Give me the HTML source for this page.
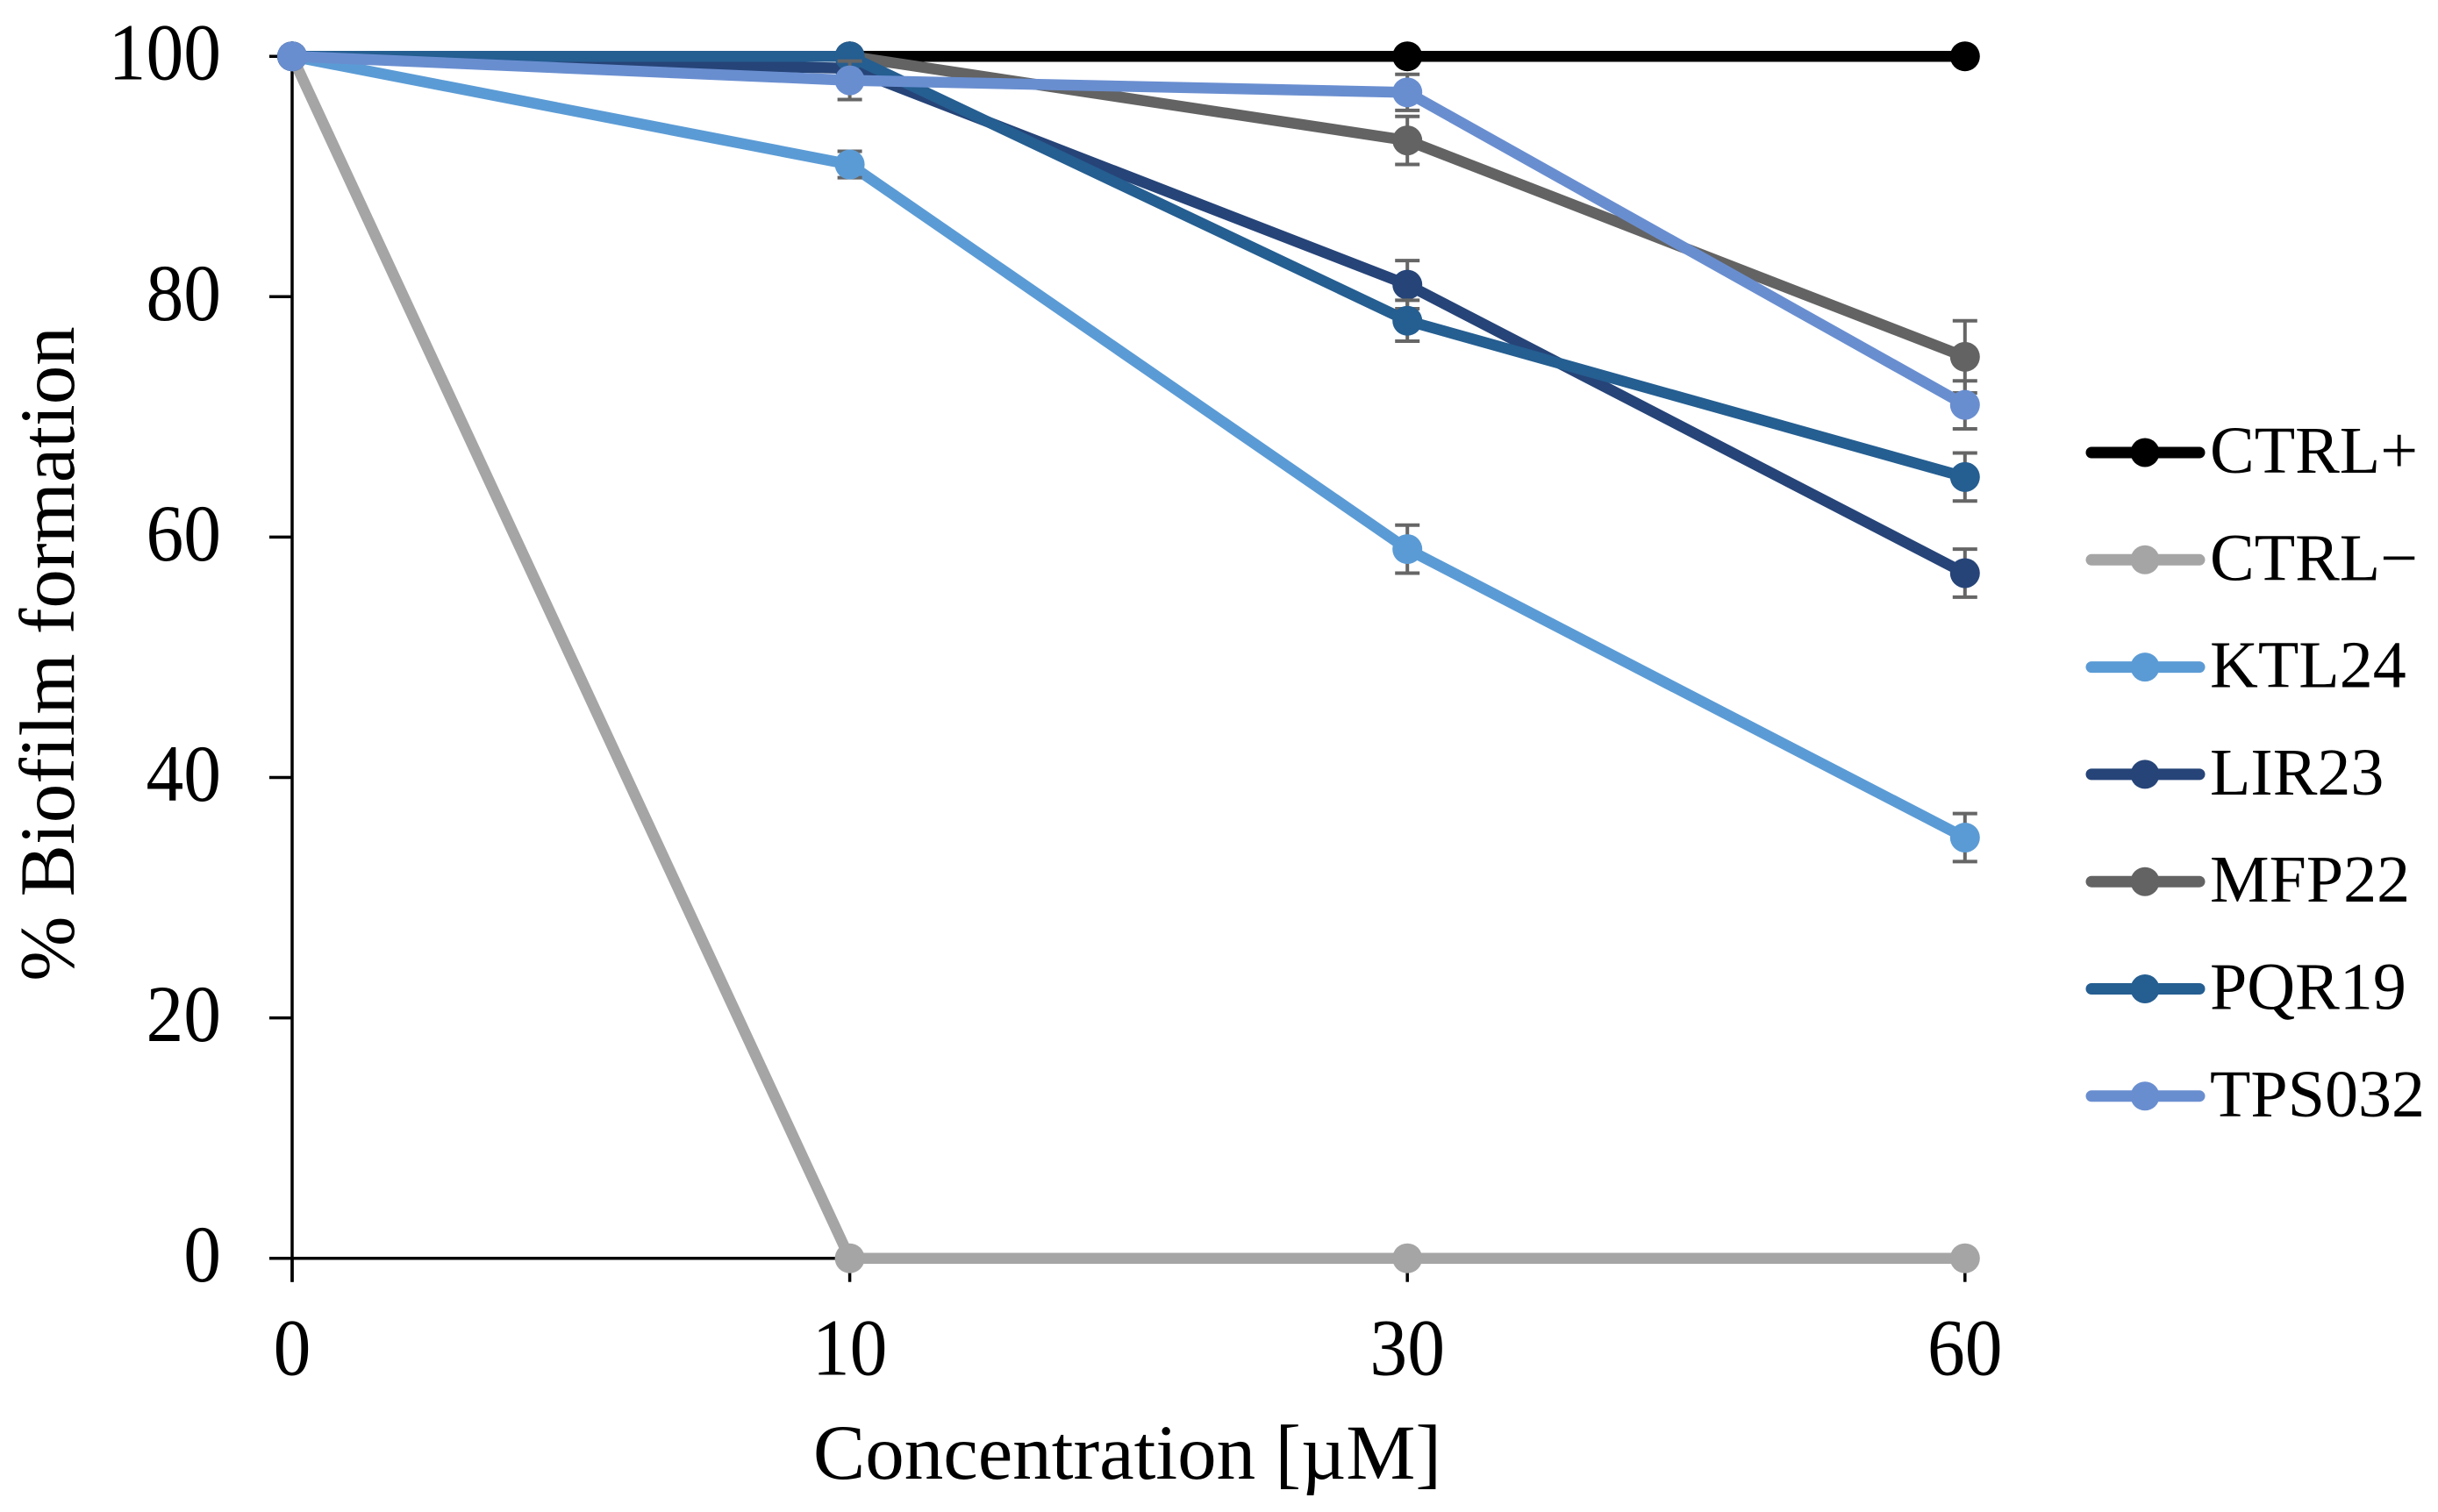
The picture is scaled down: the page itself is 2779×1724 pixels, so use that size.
<!DOCTYPE html>
<html lang="en">
<head>
<meta charset="utf-8">
<title>Biofilm formation chart</title>
<style>
  html, body { margin: 0; padding: 0; background: #fff; }
  svg { display: block; }
  text { font-family: "Liberation Serif", "Times New Roman", serif; fill: #000; }
</style>
</head>
<body>
<svg id="chart" xmlns="http://www.w3.org/2000/svg" width="2779" height="1724" viewBox="0 0 2779 1724">
  <rect x="0" y="0" width="2779" height="1724" fill="#ffffff"/>
  <text x="1285" y="1686" font-size="89" text-anchor="middle">Concentration [µM]</text>
  <text transform="translate(84,745.5) rotate(-90)" font-size="89" text-anchor="middle">% Biofilm formation</text>
</svg>
<script>
const categories = ['0', '10', '30', '60'];
const yTicks = [0, 20, 40, 60, 80, 100];
const seriesNames = ['CTRL+', 'CTRL\u2212', 'KTL24', 'LIR23', 'MFP22', 'PQR19', 'TPS032'];
const seriesColors = ['#000000', '#a5a5a5', '#5b9bd5', '#264478', '#636363', '#255e91', '#698ed0'];
const ctrlPlus = [100, 100, 100, 100];
const ctrlMinus = [100, 0, 0, 0];
const ktl24 = [100, 91, 59, 35];
const lir23 = [100, 99, 81, 57];
const mfp22 = [100, 100, 93, 75];
const pqr19 = [100, 100, 78, 65];
const tps032 = [100, 98, 97, 71];
const ctrlPlusErr = [0, 0, 0, 0];
const ctrlMinusErr = [0, 0, 0, 0];
const ktl24Err = [0, 1.1, 2, 2];
const lir23Err = [0, 0, 2, 2];
const mfp22Err = [0, 0, 2, 3];
const pqr19Err = [0, 0, 1.7, 2];
const tps032Err = [0, 1.6, 1.5, 2];
const seriesValues = [ctrlPlus, ctrlMinus, ktl24, lir23, mfp22, pqr19, tps032];
const seriesErrors = [ctrlPlusErr, ctrlMinusErr, ktl24Err, lir23Err, mfp22Err, pqr19Err, tps032Err];

const svg = document.getElementById('chart');
const NS = 'http://www.w3.org/2000/svg';
const xLeft = 333, xStep = 635.6;
const yZero = 1434.7, yUnit = 13.705;
function xScale(i) { return xLeft + i * xStep; }
function yScale(v) { return yZero - v * yUnit; }
function slug(s) { return s.toLowerCase().replace('+', '-plus').replace('\u2212', '-minus'); }
function make(tag, props, parent) {
  const el = document.createElementNS(NS, tag);
  for (const k in props) el.setAttribute(k, props[k]);
  (parent || svg).appendChild(el);
  return el;
}

// axes
const axes = make('g', {});


const yAxisLine = make('line', { x1: xLeft, x2: xLeft, y1: yScale(100), y2: yZero + 27, stroke: '#000', 'stroke-width': 3.5 }, axes);


const xAxisLine = make('line', { x1: xLeft - 26, x2: xScale(categories.length - 1), y1: yZero, y2: yZero, stroke: '#000', 'stroke-width': 3.5 }, axes);



yTicks.forEach(function (t) {
  const tick = make('line', { x1: xLeft - 26, x2: xLeft, y1: yScale(t), y2: yScale(t), stroke: '#000', 'stroke-width': 3.5 }, axes);
  
  
  const label = make('text', { transform: 'translate(252,' + (yScale(t) + 26.5) + ') scale(0.93,1)', 'font-size': 92, 'text-anchor': 'end' }, axes);
  
  
  label.textContent = String(t);
});

categories.forEach(function (c, i) {
  const tick = make('line', { x1: xScale(i), x2: xScale(i), y1: yZero, y2: yZero + 27, stroke: '#000', 'stroke-width': 3.5 }, axes);
  
  
  const label = make('text', { transform: 'translate(' + xScale(i) + ',1567.5) scale(0.93,1)', 'font-size': 92, 'text-anchor': 'middle' }, axes);
  
  
  label.textContent = c;
});

// series
seriesNames.forEach(function (name, s) {
  const key = slug(name);
  const color = seriesColors[s];
  const values = seriesValues[s];
  const errors = seriesErrors[s];
  const group = make('g', {});
  
  

  const pts = values.map(function (v, i) { return xScale(i) + ',' + yScale(v); }).join(' ');
  const line = make('polyline', { points: pts, fill: 'none', stroke: color, 'stroke-width': 12.5, 'stroke-linejoin': 'round' }, group);
  
  

  values.forEach(function (v, i) {
    const e = errors[i];
    if (!e) return;
    const x = xScale(i), top = yScale(v + e), bot = yScale(v - e);
    const err = make('path', {
      d: 'M' + x + ' ' + top + 'V' + bot + 'M' + (x - 14) + ' ' + top + 'H' + (x + 14) + 'M' + (x - 14) + ' ' + bot + 'H' + (x + 14),
      fill: 'none', stroke: '#666666', 'stroke-width': 4
    }, group);
    
    
  });

  values.forEach(function (v, i) {
    const pt = make('circle', { cx: xScale(i), cy: yScale(v), r: 17, fill: color }, group);
    
    
  });
});

// legend
const legend = make('g', {});


seriesNames.forEach(function (name, s) {
  const key = slug(name);
  const y = 516 + s * 122.3;
  const entry = make('g', {}, legend);
  
  
  const swatch = make('line', { x1: 2384, x2: 2507, y1: y, y2: y, stroke: seriesColors[s], 'stroke-width': 13, 'stroke-linecap': 'round' }, entry);
  
  
  const dot = make('circle', { cx: 2445, cy: y, r: 16.5, fill: seriesColors[s] }, entry);
  
  
  const label = make('text', { x: 2519, y: y + 23, 'font-size': 76 }, entry);
  
  
  label.textContent = name;
});
</script>
</body>
</html>
